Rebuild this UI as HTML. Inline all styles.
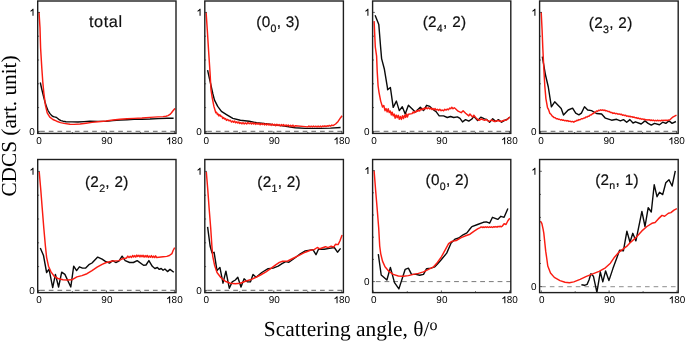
<!DOCTYPE html>
<html><head><meta charset="utf-8"><title>CDCS</title>
<style>
html,body{margin:0;padding:0;background:#fff;}
body{width:685px;height:341px;overflow:hidden;font-family:"Liberation Sans",sans-serif;}
svg{display:block;will-change:transform;}
.t{font-family:"Liberation Sans",sans-serif;font-size:10px;fill:#000;text-rendering:geometricPrecision;}
.l{font-family:"Liberation Sans",sans-serif;font-size:15.3px;fill:#111;letter-spacing:0.3px;stroke:#111;stroke-width:0.2px;text-rendering:geometricPrecision;}
.lt{font-family:"Liberation Sans",sans-serif;font-size:16.3px;fill:#111;letter-spacing:0.6px;stroke:#111;stroke-width:0.2px;text-rendering:geometricPrecision;}
.s{font-family:"Liberation Serif",serif;font-size:21.4px;fill:#000;text-rendering:geometricPrecision;}
</style></head><body>
<svg width="685" height="341" viewBox="0 0 685 341">
<rect width="685" height="341" fill="#fff"/>

<g>
<line x1="40.1" y1="131.3" x2="176.0" y2="131.3" stroke="#3a3a3a" stroke-width="0.8" stroke-dasharray="4.7 3.98"/>
<path d="M40.3 82.5 L41.5 88.0 L43.5 96.4 L45.0 102.0 L46.6 107.1 L48.0 110.5 L49.8 113.4 L51.5 115.4 L52.9 116.5 L54.5 116.9 L56.1 117.2 L57.5 118.2 L59.2 119.7 L61.0 120.6 L63.0 121.2 L66.0 121.7 L72.0 121.9 L78.0 122.0 L84.0 121.6 L90.0 121.2 L98.0 121.4 L106.0 121.4 L113.0 120.6 L120.0 120.0 L127.0 119.7 L134.0 119.4 L142.0 119.2 L150.0 119.0 L158.0 118.6 L167.0 118.2 L173.6 118.2" fill="none" stroke="#0a0a0a" stroke-width="1.4" stroke-linejoin="round" stroke-linecap="butt"/>
<path d="M39.0 12.1 L40.0 28.0 L40.6 48.0 L41.8 68.0 L42.8 82.0 L43.8 92.6 L45.4 105.2 L47.2 112.8 L49.8 117.2 L52.9 119.5 L56.7 121.2 L60.5 122.6 L64.0 123.4 L70.0 124.2 L74.0 124.4 L80.0 124.0 L86.0 123.2 L92.0 122.4 L98.0 121.8 L106.0 121.0 L113.0 120.0 L120.0 119.2 L127.0 118.8 L134.0 118.4 L142.0 118.0 L150.0 117.4 L158.0 116.9 L163.0 116.6 L166.0 116.2 L168.0 115.6 L170.0 114.4 L171.5 112.8 L173.0 110.8 L174.5 109.0 L175.3 108.6" fill="none" stroke="#fa1c12" stroke-width="1.45" stroke-linejoin="round" stroke-linecap="butt"/>
<line x1="37.7" y1="12.4" x2="40.0" y2="12.4" stroke="#222" stroke-width="0.7"/>
<line x1="37.7" y1="36.2" x2="39.1" y2="36.2" stroke="#222" stroke-width="0.7"/>
<line x1="37.7" y1="60.0" x2="39.1" y2="60.0" stroke="#222" stroke-width="0.7"/>
<line x1="37.7" y1="83.8" x2="39.1" y2="83.8" stroke="#222" stroke-width="0.7"/>
<line x1="37.7" y1="107.6" x2="39.1" y2="107.6" stroke="#222" stroke-width="0.7"/>
<line x1="37.7" y1="131.4" x2="40.0" y2="131.4" stroke="#222" stroke-width="0.7"/>
<line x1="38.4" y1="133.4" x2="38.4" y2="131.2" stroke="#222" stroke-width="0.7"/>
<line x1="72.4" y1="133.4" x2="72.4" y2="132.1" stroke="#222" stroke-width="0.7"/>
<line x1="106.4" y1="133.4" x2="106.4" y2="131.2" stroke="#222" stroke-width="0.7"/>
<line x1="140.4" y1="133.4" x2="140.4" y2="132.1" stroke="#222" stroke-width="0.7"/>
<line x1="174.4" y1="133.4" x2="174.4" y2="131.2" stroke="#222" stroke-width="0.7"/>
<rect x="37.7" y="1.0" width="138.3" height="132.4" fill="none" stroke="#1e1e1e" stroke-width="1.4"/>
<path fill="#000" d="M33.50 15.80 V8.85 H32.75 Q32.00 10.10 30.50 10.80 V11.80 Q31.60 11.40 32.50 10.60 V15.80 Z"/>
<text class="t" transform="translate(34.7 134.7) scale(0.995 1)" text-anchor="end">0</text>
<text class="t" transform="translate(38.9 144.1) scale(0.995 1)" text-anchor="middle">0</text>
<text class="t" transform="translate(106.9 144.1) scale(0.995 1)" text-anchor="middle">90</text>
<path fill="#000" d="M170.15 144.15 V137.20 H169.40 Q168.65 138.45 167.15 139.15 V140.15 Q168.25 139.75 169.15 138.95 V144.15 Z"/>
<text class="t" transform="translate(171.6 144.1) scale(0.995 1)" text-anchor="start">80</text>
<text class="lt" x="105.8" y="27.2" text-anchor="middle">total</text>
</g>
<g>
<line x1="207.2" y1="131.3" x2="343.4" y2="131.3" stroke="#3a3a3a" stroke-width="0.8" stroke-dasharray="4.7 3.98"/>
<path d="M207.6 70.2 L210.0 81.0 L212.0 90.0 L212.9 94.0 L214.5 100.1 L217.7 106.4 L221.4 111.4 L226.5 114.6 L232.8 118.4 L240.4 120.3 L249.2 121.3 L256.7 122.8 L265.6 123.8 L270.0 124.2 L275.7 125.1 L282.6 125.9 L295.2 127.7 L305.3 128.4 L320.4 128.4 L330.5 128.1 L340.6 127.5" fill="none" stroke="#0a0a0a" stroke-width="1.4" stroke-linejoin="round" stroke-linecap="butt"/>
<path d="M206.1 12.4 L207.3 30.0 L208.6 51.0 L210.0 72.0 L211.0 90.0 L212.2 97.6 L213.9 106.4 L215.8 112.7 L216.6 112.3 L217.4 114.6 L218.2 114.1 L218.9 115.9 L219.9 114.8 L220.8 116.4 L221.8 116.3 L222.7 118.5 L223.6 117.5 L224.6 119.1 L225.6 118.5 L226.5 120.4 L227.8 119.4 L229.0 120.9 L230.2 120.2 L231.5 122.1 L232.6 121.0 L233.6 122.2 L234.7 121.1 L235.7 122.8 L236.8 121.8 L237.8 123.1 L238.8 121.9 L239.8 123.5 L240.9 122.6 L241.9 123.9 L242.9 122.6 L244.2 123.9 L245.4 122.9 L246.7 124.0 L247.9 122.5 L249.2 123.7 L250.4 122.7 L251.5 124.1 L252.6 122.7 L253.7 123.9 L254.7 122.9 L255.8 124.4 L256.9 123.1 L258.0 124.3 L259.1 123.2 L260.2 124.7 L261.3 123.5 L262.3 124.6 L263.4 123.4 L264.5 124.9 L265.6 123.8 L266.7 125.0 L267.8 123.7 L268.9 125.1 L270.0 124.1 L271.1 125.4 L272.3 123.9 L273.4 125.3 L274.6 124.3 L275.7 125.7 L276.9 124.2 L278.0 125.5 L279.1 124.5 L280.3 125.9 L281.5 124.5 L282.6 125.7 L283.7 124.6 L284.9 126.1 L286.0 124.9 L287.2 126.0 L288.3 124.9 L289.5 126.4 L290.6 125.3 L291.8 126.4 L292.9 125.1 L294.1 126.7 L295.2 125.7 L307.8 126.9 L308.9 126.0 L310.1 126.9 L311.2 126.2 L312.4 126.9 L313.5 126.0 L314.7 126.8 L315.8 126.2 L317.0 127.0 L318.1 126.1 L319.3 126.8 L320.4 126.1 L321.5 126.9 L322.6 126.0 L323.7 126.6 L324.9 125.8 L326.0 126.6 L327.1 125.7 L328.2 126.3 L329.3 125.4 L330.5 126.1 L331.8 125.1 L333.0 125.6 L335.6 124.0 L338.1 121.4 L340.6 117.7 L342.1 115.8" fill="none" stroke="#fa1c12" stroke-width="1.45" stroke-linejoin="round" stroke-linecap="butt"/>
<line x1="204.8" y1="12.4" x2="207.0" y2="12.4" stroke="#222" stroke-width="0.7"/>
<line x1="204.8" y1="36.2" x2="206.1" y2="36.2" stroke="#222" stroke-width="0.7"/>
<line x1="204.8" y1="60.0" x2="206.1" y2="60.0" stroke="#222" stroke-width="0.7"/>
<line x1="204.8" y1="83.8" x2="206.1" y2="83.8" stroke="#222" stroke-width="0.7"/>
<line x1="204.8" y1="107.6" x2="206.1" y2="107.6" stroke="#222" stroke-width="0.7"/>
<line x1="204.8" y1="131.4" x2="207.0" y2="131.4" stroke="#222" stroke-width="0.7"/>
<line x1="205.8" y1="133.4" x2="205.8" y2="131.2" stroke="#222" stroke-width="0.7"/>
<line x1="239.8" y1="133.4" x2="239.8" y2="132.1" stroke="#222" stroke-width="0.7"/>
<line x1="273.8" y1="133.4" x2="273.8" y2="131.2" stroke="#222" stroke-width="0.7"/>
<line x1="307.8" y1="133.4" x2="307.8" y2="132.1" stroke="#222" stroke-width="0.7"/>
<line x1="341.8" y1="133.4" x2="341.8" y2="131.2" stroke="#222" stroke-width="0.7"/>
<rect x="204.8" y="1.0" width="138.6" height="132.4" fill="none" stroke="#1e1e1e" stroke-width="1.4"/>
<path fill="#000" d="M200.55 15.80 V8.85 H199.80 Q199.05 10.10 197.55 10.80 V11.80 Q198.65 11.40 199.55 10.60 V15.80 Z"/>
<text class="t" transform="translate(201.8 134.7) scale(0.995 1)" text-anchor="end">0</text>
<text class="t" transform="translate(206.3 144.1) scale(0.995 1)" text-anchor="middle">0</text>
<text class="t" transform="translate(274.3 144.1) scale(0.995 1)" text-anchor="middle">90</text>
<path fill="#000" d="M337.55 144.15 V137.20 H336.80 Q336.05 138.45 334.55 139.15 V140.15 Q335.65 139.75 336.55 138.95 V144.15 Z"/>
<text class="t" transform="translate(339.0 144.1) scale(0.995 1)" text-anchor="start">80</text>
<text class="l" x="278.1" y="27.1" text-anchor="middle">(0<tspan font-size="10.6px" dy="4.7">0</tspan><tspan dy="-4.7">, 3)</tspan></text>
</g>
<g>
<line x1="375.0" y1="131.3" x2="510.8" y2="131.3" stroke="#3a3a3a" stroke-width="0.8" stroke-dasharray="4.7 3.98"/>
<path d="M375.1 15.3 L378.8 24.6 L380.6 47.0 L381.6 58.6 L384.4 69.3 L387.5 88.2 L387.6 89.8 L390.4 87.5 L393.2 107.4 L396.4 101.1 L399.3 110.6 L402.3 106.8 L405.2 114.0 L408.4 105.2 L415.3 111.9 L420.3 107.2 L423.5 110.6 L426.6 105.3 L429.8 106.4 L433.6 110.0 L436.1 111.7 L439.2 115.9 L443.6 115.9 L447.3 117.5 L450.5 116.5 L453.7 117.5 L457.4 116.9 L460.0 118.4 L462.5 121.9 L465.6 119.6 L468.8 121.1 L471.9 119.0 L473.8 116.2 L477.6 120.6 L480.8 117.1 L484.6 118.8 L486.4 119.3 L489.6 122.2 L492.7 118.8 L495.9 121.5 L498.4 119.6 L501.6 122.2 L504.7 120.3 L507.9 118.8 L509.8 117.1" fill="none" stroke="#0a0a0a" stroke-width="1.4" stroke-linejoin="round" stroke-linecap="butt"/>
<path d="M374.1 21.1 L375.3 47.0 L376.6 56.1 L377.2 71.2 L378.1 86.0 L379.0 92.3 L380.7 101.1 L382.5 107.0 L383.8 105.5 L385.0 110.7 L386.1 108.6 L387.1 111.9 L388.2 108.8 L389.2 112.6 L390.3 111.0 L391.3 114.9 L392.2 112.3 L393.2 115.8 L394.2 114.1 L395.1 118.2 L396.2 115.1 L397.2 117.8 L398.3 115.3 L399.3 119.2 L400.4 116.5 L401.4 119.4 L402.5 115.8 L403.5 118.6 L404.6 115.2 L405.6 117.4 L406.5 113.9 L407.4 117.0 L408.4 114.2 L412.1 113.6 L413.1 112.0 L414.0 112.9 L414.9 111.6 L415.9 112.2 L416.8 110.6 L417.8 111.3 L418.8 110.1 L419.7 110.9 L420.6 109.2 L421.6 109.8 L422.6 108.6 L423.5 109.4 L424.4 108.0 L425.4 108.8 L426.4 107.6 L427.3 108.8 L428.5 107.8 L429.8 108.9 L431.0 108.0 L432.0 109.5 L433.0 108.6 L434.1 109.7 L435.1 108.6 L436.1 110.1 L437.3 109.3 L438.6 110.4 L439.8 109.3 L441.1 110.7 L442.3 110.0 L443.6 110.8 L444.8 109.3 L446.1 110.1 L447.3 109.0 L448.4 109.8 L449.6 108.1 L450.7 108.7 L451.8 107.3 L453.0 108.7 L454.3 107.7 L455.5 108.7 L458.1 111.2 L461.2 112.7 L463.1 110.8 L465.6 113.3 L468.8 115.9 L470.0 114.0 L472.6 117.1 L473.8 115.2 L476.4 118.4 L478.9 120.3 L481.4 119.0 L484.6 120.3 L486.4 119.6 L489.0 121.5 L491.5 120.0 L494.6 121.5 L497.8 120.5 L501.0 121.5 L504.1 120.3 L506.6 120.0 L509.8 116.9" fill="none" stroke="#fa1c12" stroke-width="1.45" stroke-linejoin="round" stroke-linecap="butt"/>
<line x1="372.6" y1="12.4" x2="374.9" y2="12.4" stroke="#222" stroke-width="0.7"/>
<line x1="372.6" y1="36.2" x2="374.0" y2="36.2" stroke="#222" stroke-width="0.7"/>
<line x1="372.6" y1="60.0" x2="374.0" y2="60.0" stroke="#222" stroke-width="0.7"/>
<line x1="372.6" y1="83.8" x2="374.0" y2="83.8" stroke="#222" stroke-width="0.7"/>
<line x1="372.6" y1="107.6" x2="374.0" y2="107.6" stroke="#222" stroke-width="0.7"/>
<line x1="372.6" y1="131.4" x2="374.9" y2="131.4" stroke="#222" stroke-width="0.7"/>
<line x1="373.4" y1="133.4" x2="373.4" y2="131.2" stroke="#222" stroke-width="0.7"/>
<line x1="407.4" y1="133.4" x2="407.4" y2="132.1" stroke="#222" stroke-width="0.7"/>
<line x1="441.4" y1="133.4" x2="441.4" y2="131.2" stroke="#222" stroke-width="0.7"/>
<line x1="475.4" y1="133.4" x2="475.4" y2="132.1" stroke="#222" stroke-width="0.7"/>
<line x1="509.4" y1="133.4" x2="509.4" y2="131.2" stroke="#222" stroke-width="0.7"/>
<rect x="372.6" y="1.0" width="138.2" height="132.4" fill="none" stroke="#1e1e1e" stroke-width="1.4"/>
<path fill="#000" d="M368.40 15.80 V8.85 H367.65 Q366.90 10.10 365.40 10.80 V11.80 Q366.50 11.40 367.40 10.60 V15.80 Z"/>
<text class="t" transform="translate(369.6 134.7) scale(0.995 1)" text-anchor="end">0</text>
<text class="t" transform="translate(373.9 144.1) scale(0.995 1)" text-anchor="middle">0</text>
<text class="t" transform="translate(441.9 144.1) scale(0.995 1)" text-anchor="middle">90</text>
<path fill="#000" d="M505.15 144.15 V137.20 H504.40 Q503.65 138.45 502.15 139.15 V140.15 Q503.25 139.75 504.15 138.95 V144.15 Z"/>
<text class="t" transform="translate(506.6 144.1) scale(0.995 1)" text-anchor="start">80</text>
<text class="l" x="444.5" y="26.9" text-anchor="middle">(2<tspan font-size="10.6px" dy="4.7">4</tspan><tspan dy="-4.7">, 2)</tspan></text>
</g>
<g>
<line x1="542.0" y1="131.3" x2="678.2" y2="131.3" stroke="#3a3a3a" stroke-width="0.8" stroke-dasharray="4.7 3.98"/>
<path d="M542.3 56.7 L545.5 75.0 L548.3 87.0 L551.4 106.8 L554.7 101.8 L561.2 108.4 L563.5 115.0 L568.2 110.0 L572.6 108.1 L575.7 113.1 L578.9 114.8 L581.4 113.1 L584.5 106.8 L587.7 110.0 L591.5 110.6 L596.5 113.5 L601.6 114.0 L605.4 118.2 L611.6 120.2 L616.6 119.3 L620.4 120.9 L623.5 119.6 L626.7 122.2 L629.9 119.6 L633.0 123.0 L635.5 121.8 L641.2 124.0 L645.0 120.9 L648.1 123.4 L651.3 125.1 L654.5 123.4 L659.5 124.7 L662.7 122.2 L665.8 123.4 L669.0 120.9 L672.1 123.4 L675.9 121.5" fill="none" stroke="#0a0a0a" stroke-width="1.4" stroke-linejoin="round" stroke-linecap="butt"/>
<path d="M541.2 12.1 L542.1 30.0 L542.8 48.0 L543.9 70.0 L544.8 86.0 L545.9 98.6 L547.5 107.7 L548.7 109.9 L549.9 113.4 L550.9 114.2 L552.0 115.9 L553.0 116.6 L554.1 117.6 L555.2 117.7 L556.3 118.8 L557.4 118.7 L558.5 119.4 L559.5 119.2 L560.5 120.0 L561.6 119.6 L562.7 120.3 L563.7 120.0 L564.7 120.8 L565.7 120.4 L566.8 121.0 L567.8 120.6 L568.8 121.4 L570.0 121.1 L571.3 121.8 L572.5 121.4 L573.8 122.2 L574.8 121.3 L575.8 121.3 L576.9 120.3 L577.9 120.5 L578.9 119.6 L580.1 119.7 L581.4 118.7 L582.6 118.8 L583.9 118.0 L584.9 118.1 L585.9 117.0 L587.0 117.1 L588.0 116.2 L589.0 116.3 L590.2 115.0 L591.5 114.7 L592.7 113.4 L593.7 113.4 L594.6 112.2 L595.5 112.1 L596.5 110.9 L597.6 111.2 L598.6 110.3 L599.7 110.5 L600.7 109.8 L601.8 110.3 L602.8 109.8 L603.8 110.5 L604.8 110.1 L605.9 110.9 L606.9 110.7 L607.9 111.5 L609.1 111.4 L610.4 112.4 L611.6 112.4 L612.9 113.4 L614.1 113.0 L615.4 113.7 L616.6 113.4 L617.9 114.2 L619.1 113.9 L620.4 114.5 L621.5 114.2 L622.5 115.2 L623.5 114.9 L624.6 115.6 L625.7 115.3 L626.7 116.2 L627.8 115.9 L628.8 116.6 L629.9 116.2 L630.9 116.9 L632.0 116.7 L633.0 117.4 L634.1 117.0 L635.2 117.8 L636.3 117.6 L637.3 118.4 L638.4 118.0 L639.5 118.8 L640.6 118.5 L641.6 119.3 L642.7 118.9 L643.8 119.6 L644.8 119.2 L645.9 120.1 L646.9 119.7 L648.0 120.2 L649.1 119.7 L650.2 120.5 L651.2 120.0 L652.3 120.6 L653.4 120.1 L654.5 120.8 L655.5 120.3 L656.6 120.8 L657.6 120.2 L658.7 120.8 L659.8 120.4 L660.8 120.9 L661.8 120.2 L662.9 120.7 L664.0 120.2 L665.0 120.7 L666.0 120.1 L667.1 120.5 L670.2 119.6 L672.8 117.1 L676.5 115.2" fill="none" stroke="#fa1c12" stroke-width="1.45" stroke-linejoin="round" stroke-linecap="butt"/>
<line x1="539.6" y1="12.4" x2="541.9" y2="12.4" stroke="#222" stroke-width="0.7"/>
<line x1="539.6" y1="36.2" x2="541.0" y2="36.2" stroke="#222" stroke-width="0.7"/>
<line x1="539.6" y1="60.0" x2="541.0" y2="60.0" stroke="#222" stroke-width="0.7"/>
<line x1="539.6" y1="83.8" x2="541.0" y2="83.8" stroke="#222" stroke-width="0.7"/>
<line x1="539.6" y1="107.6" x2="541.0" y2="107.6" stroke="#222" stroke-width="0.7"/>
<line x1="539.6" y1="131.4" x2="541.9" y2="131.4" stroke="#222" stroke-width="0.7"/>
<line x1="540.6" y1="133.4" x2="540.6" y2="131.2" stroke="#222" stroke-width="0.7"/>
<line x1="574.6" y1="133.4" x2="574.6" y2="132.1" stroke="#222" stroke-width="0.7"/>
<line x1="608.6" y1="133.4" x2="608.6" y2="131.2" stroke="#222" stroke-width="0.7"/>
<line x1="642.6" y1="133.4" x2="642.6" y2="132.1" stroke="#222" stroke-width="0.7"/>
<line x1="676.6" y1="133.4" x2="676.6" y2="131.2" stroke="#222" stroke-width="0.7"/>
<rect x="539.6" y="1.0" width="138.6" height="132.4" fill="none" stroke="#1e1e1e" stroke-width="1.4"/>
<path fill="#000" d="M535.40 15.80 V8.85 H534.65 Q533.90 10.10 532.40 10.80 V11.80 Q533.50 11.40 534.40 10.60 V15.80 Z"/>
<text class="t" transform="translate(536.6 134.7) scale(0.995 1)" text-anchor="end">0</text>
<text class="t" transform="translate(541.1 144.1) scale(0.995 1)" text-anchor="middle">0</text>
<text class="t" transform="translate(609.1 144.1) scale(0.995 1)" text-anchor="middle">90</text>
<path fill="#000" d="M672.35 144.15 V137.20 H671.60 Q670.85 138.45 669.35 139.15 V140.15 Q670.45 139.75 671.35 138.95 V144.15 Z"/>
<text class="t" transform="translate(673.8 144.1) scale(0.995 1)" text-anchor="start">80</text>
<text class="l" x="610.7" y="28.4" text-anchor="middle">(2<tspan font-size="10.6px" dy="4.7">3</tspan><tspan dy="-4.7">, 2)</tspan></text>
</g>
<g>
<line x1="40.1" y1="290.3" x2="176.0" y2="290.3" stroke="#3a3a3a" stroke-width="0.8" stroke-dasharray="4.7 3.98"/>
<path d="M40.3 247.9 L43.5 255.5 L46.6 272.5 L49.1 269.3 L52.7 287.6 L55.4 274.4 L58.6 287.0 L61.7 272.2 L64.9 274.4 L70.8 287.0 L73.7 266.2 L76.6 270.6 L79.4 266.8 L82.5 268.1 L85.7 268.1 L88.9 264.7 L92.0 263.0 L97.7 257.1 L102.1 259.2 L105.0 261.2 L109.5 263.1 L112.6 260.6 L115.8 262.5 L118.9 261.2 L122.1 256.2 L125.2 260.6 L129.6 262.5 L133.4 262.5 L137.2 260.6 L143.5 265.3 L146.0 265.0 L148.9 260.6 L152.3 266.3 L154.9 268.5 L157.4 267.5 L159.3 269.4 L161.2 268.5 L163.1 270.3 L164.9 269.0 L167.5 271.6 L170.0 269.4 L173.8 272.3" fill="none" stroke="#0a0a0a" stroke-width="1.4" stroke-linejoin="round" stroke-linecap="butt"/>
<path d="M39.2 171.7 L40.8 190.0 L42.2 208.0 L43.8 228.0 L45.4 246.0 L46.6 257.3 L48.5 266.2 L51.0 271.9 L54.2 276.3 L58.0 278.5 L63.0 279.8 L67.4 280.0 L71.8 279.8 L76.9 276.9 L81.9 275.6 L87.0 273.7 L92.0 270.6 L97.1 267.2 L102.1 264.3 L106.3 262.5 L112.6 261.0 L118.9 260.6 L122.7 258.7 L126.5 258.0 L127.8 256.1 L129.0 257.6 L130.2 256.2 L131.5 257.5 L132.6 255.5 L133.6 257.0 L134.7 255.6 L135.7 257.1 L136.8 255.1 L137.8 256.5 L138.9 255.2 L139.9 257.0 L140.9 255.3 L142.0 256.7 L143.1 255.3 L144.1 257.2 L145.2 255.6 L146.2 257.0 L147.2 255.4 L148.3 257.4 L149.3 256.0 L150.4 257.3 L151.4 255.6 L152.5 257.5 L153.6 256.1 L154.6 257.6 L155.6 255.8 L156.7 257.5 L163.1 256.8 L166.8 256.4 L169.4 255.5 L171.9 253.7 L173.1 250.5 L174.7 247.6" fill="none" stroke="#fa1c12" stroke-width="1.45" stroke-linejoin="round" stroke-linecap="butt"/>
<line x1="37.7" y1="171.4" x2="40.0" y2="171.4" stroke="#222" stroke-width="0.7"/>
<line x1="37.7" y1="195.2" x2="39.1" y2="195.2" stroke="#222" stroke-width="0.7"/>
<line x1="37.7" y1="219.0" x2="39.1" y2="219.0" stroke="#222" stroke-width="0.7"/>
<line x1="37.7" y1="242.8" x2="39.1" y2="242.8" stroke="#222" stroke-width="0.7"/>
<line x1="37.7" y1="266.6" x2="39.1" y2="266.6" stroke="#222" stroke-width="0.7"/>
<line x1="37.7" y1="290.4" x2="40.0" y2="290.4" stroke="#222" stroke-width="0.7"/>
<line x1="38.4" y1="292.6" x2="38.4" y2="290.4" stroke="#222" stroke-width="0.7"/>
<line x1="72.4" y1="292.6" x2="72.4" y2="291.2" stroke="#222" stroke-width="0.7"/>
<line x1="106.4" y1="292.6" x2="106.4" y2="290.4" stroke="#222" stroke-width="0.7"/>
<line x1="140.4" y1="292.6" x2="140.4" y2="291.2" stroke="#222" stroke-width="0.7"/>
<line x1="174.4" y1="292.6" x2="174.4" y2="290.4" stroke="#222" stroke-width="0.7"/>
<rect x="37.7" y="159.5" width="138.3" height="133.1" fill="none" stroke="#1e1e1e" stroke-width="1.4"/>
<path fill="#000" d="M33.50 174.80 V167.85 H32.75 Q32.00 169.10 30.50 169.80 V170.80 Q31.60 170.40 32.50 169.60 V174.80 Z"/>
<text class="t" transform="translate(34.7 293.7) scale(0.995 1)" text-anchor="end">0</text>
<text class="t" transform="translate(38.9 303.2) scale(0.995 1)" text-anchor="middle">0</text>
<text class="t" transform="translate(106.9 303.2) scale(0.995 1)" text-anchor="middle">90</text>
<path fill="#000" d="M170.15 303.25 V296.30 H169.40 Q168.65 297.55 167.15 298.25 V299.25 Q168.25 298.85 169.15 298.05 V303.25 Z"/>
<text class="t" transform="translate(171.6 303.2) scale(0.995 1)" text-anchor="start">80</text>
<text class="l" x="106.8" y="186.8" text-anchor="middle">(2<tspan font-size="10.6px" dy="4.7">2</tspan><tspan dy="-4.7">, 2)</tspan></text>
</g>
<g>
<line x1="207.2" y1="290.3" x2="343.4" y2="290.3" stroke="#3a3a3a" stroke-width="0.8" stroke-dasharray="4.7 3.98"/>
<path d="M207.6 226.8 L210.1 246.0 L212.0 252.9 L214.1 252.3 L217.0 270.6 L219.9 267.4 L223.0 283.2 L225.9 271.2 L229.3 288.2 L232.2 281.9 L235.3 280.0 L237.8 277.3 L241.0 287.0 L244.1 278.8 L247.3 281.7 L250.4 281.9 L253.0 274.4 L256.1 277.3 L261.8 272.5 L268.1 268.7 L273.1 268.1 L278.2 266.2 L282.0 263.7 L285.7 261.6 L288.9 262.2 L295.2 257.8 L300.3 253.8 L305.3 250.9 L312.9 249.6 L316.0 254.7 L318.5 249.3 L324.2 249.3 L329.3 248.4 L334.3 247.5 L337.5 252.2 L340.6 248.4" fill="none" stroke="#0a0a0a" stroke-width="1.4" stroke-linejoin="round" stroke-linecap="butt"/>
<path d="M206.3 171.7 L207.8 190.0 L209.1 208.0 L210.7 228.0 L211.9 246.0 L212.7 256.1 L214.5 264.9 L217.0 272.5 L220.8 277.5 L225.2 281.3 L230.3 283.2 L235.3 283.8 L240.4 283.2 L245.4 281.3 L250.4 279.8 L255.5 277.5 L260.5 275.0 L265.6 272.2 L270.6 268.7 L275.7 264.9 L279.4 262.4 L282.6 261.2 L287.7 261.0 L292.7 258.5 L299.0 255.3 L305.3 252.2 L310.4 250.3 L314.1 249.6 L317.3 247.5 L319.8 248.8 L325.5 246.7 L328.0 247.7 L331.2 246.2 L333.7 247.1 L335.6 244.2 L338.1 244.6 L340.0 240.8 L342.1 235.1" fill="none" stroke="#fa1c12" stroke-width="1.45" stroke-linejoin="round" stroke-linecap="butt"/>
<line x1="204.8" y1="171.4" x2="207.0" y2="171.4" stroke="#222" stroke-width="0.7"/>
<line x1="204.8" y1="195.2" x2="206.1" y2="195.2" stroke="#222" stroke-width="0.7"/>
<line x1="204.8" y1="219.0" x2="206.1" y2="219.0" stroke="#222" stroke-width="0.7"/>
<line x1="204.8" y1="242.8" x2="206.1" y2="242.8" stroke="#222" stroke-width="0.7"/>
<line x1="204.8" y1="266.6" x2="206.1" y2="266.6" stroke="#222" stroke-width="0.7"/>
<line x1="204.8" y1="290.4" x2="207.0" y2="290.4" stroke="#222" stroke-width="0.7"/>
<line x1="205.8" y1="292.6" x2="205.8" y2="290.4" stroke="#222" stroke-width="0.7"/>
<line x1="239.8" y1="292.6" x2="239.8" y2="291.2" stroke="#222" stroke-width="0.7"/>
<line x1="273.8" y1="292.6" x2="273.8" y2="290.4" stroke="#222" stroke-width="0.7"/>
<line x1="307.8" y1="292.6" x2="307.8" y2="291.2" stroke="#222" stroke-width="0.7"/>
<line x1="341.8" y1="292.6" x2="341.8" y2="290.4" stroke="#222" stroke-width="0.7"/>
<rect x="204.8" y="159.5" width="138.6" height="133.1" fill="none" stroke="#1e1e1e" stroke-width="1.4"/>
<path fill="#000" d="M200.55 174.80 V167.85 H199.80 Q199.05 169.10 197.55 169.80 V170.80 Q198.65 170.40 199.55 169.60 V174.80 Z"/>
<text class="t" transform="translate(201.8 293.7) scale(0.995 1)" text-anchor="end">0</text>
<text class="t" transform="translate(206.3 303.2) scale(0.995 1)" text-anchor="middle">0</text>
<text class="t" transform="translate(274.3 303.2) scale(0.995 1)" text-anchor="middle">90</text>
<path fill="#000" d="M337.55 303.25 V296.30 H336.80 Q336.05 297.55 334.55 298.25 V299.25 Q335.65 298.85 336.55 298.05 V303.25 Z"/>
<text class="t" transform="translate(339.0 303.2) scale(0.995 1)" text-anchor="start">80</text>
<text class="l" x="279.1" y="187.1" text-anchor="middle">(2<tspan font-size="10.6px" dy="4.7">1</tspan><tspan dy="-4.7">, 2)</tspan></text>
</g>
<g>
<line x1="375.8" y1="281.6" x2="510.8" y2="281.6" stroke="#6a6a6a" stroke-width="0.9" stroke-dasharray="4.8 3.9"/>
<path d="M378.3 254.2 L381.2 275.0 L386.9 280.0 L390.4 267.4 L394.5 282.6 L398.9 288.9 L405.2 269.3 L408.4 268.1 L411.5 274.4 L415.9 274.4 L419.7 275.3 L423.5 274.4 L426.6 268.7 L431.0 268.1 L434.8 266.8 L437.5 263.9 L441.0 260.0 L446.7 253.1 L451.1 243.0 L454.9 239.2 L458.7 238.0 L463.1 234.8 L466.9 232.9 L470.3 228.5 L471.9 226.6 L477.6 224.5 L483.3 222.3 L486.4 221.9 L489.6 223.2 L492.5 217.3 L497.8 219.4 L500.9 216.3 L504.1 217.3 L507.9 208.4" fill="none" stroke="#0a0a0a" stroke-width="1.4" stroke-linejoin="round" stroke-linecap="butt"/>
<path d="M374.1 170.8 L375.6 190.0 L377.1 208.0 L378.7 228.0 L379.7 246.0 L380.7 253.6 L382.5 261.1 L385.0 266.8 L388.8 271.2 L393.2 274.4 L398.3 276.0 L403.3 276.3 L408.4 275.6 L413.4 274.4 L418.4 273.4 L423.5 271.9 L428.5 269.3 L433.6 266.8 L436.5 263.6 L441.0 257.5 L445.5 249.3 L448.6 243.7 L451.8 241.4 L456.2 240.5 L461.2 237.6 L466.3 235.5 L470.0 234.2 L473.8 231.3 L477.6 228.8 L480.1 227.6 L481.2 226.9 L482.2 227.5 L483.2 227.0 L484.3 227.5 L485.3 226.8 L486.4 227.4 L487.4 226.8 L488.5 227.5 L489.5 226.8 L490.6 227.3 L491.6 226.8 L492.7 227.5 L493.8 226.7 L494.8 227.2 L495.9 226.5 L497.0 227.2 L498.0 226.4 L499.1 226.8 L500.1 226.2 L501.2 226.8 L502.2 226.2 L504.1 223.8 L506.0 224.5 L507.9 220.7 L509.8 218.2" fill="none" stroke="#fa1c12" stroke-width="1.45" stroke-linejoin="round" stroke-linecap="butt"/>
<line x1="372.6" y1="170.6" x2="374.9" y2="170.6" stroke="#222" stroke-width="0.7"/>
<line x1="372.6" y1="192.8" x2="374.0" y2="192.8" stroke="#222" stroke-width="0.7"/>
<line x1="372.6" y1="215.0" x2="374.0" y2="215.0" stroke="#222" stroke-width="0.7"/>
<line x1="372.6" y1="237.2" x2="374.0" y2="237.2" stroke="#222" stroke-width="0.7"/>
<line x1="372.6" y1="259.4" x2="374.0" y2="259.4" stroke="#222" stroke-width="0.7"/>
<line x1="372.6" y1="281.6" x2="374.9" y2="281.6" stroke="#222" stroke-width="0.7"/>
<line x1="373.2" y1="292.6" x2="373.2" y2="290.4" stroke="#222" stroke-width="0.7"/>
<line x1="407.3" y1="292.6" x2="407.3" y2="291.2" stroke="#222" stroke-width="0.7"/>
<line x1="441.4" y1="292.6" x2="441.4" y2="290.4" stroke="#222" stroke-width="0.7"/>
<line x1="475.5" y1="292.6" x2="475.5" y2="291.2" stroke="#222" stroke-width="0.7"/>
<line x1="509.6" y1="292.6" x2="509.6" y2="290.4" stroke="#222" stroke-width="0.7"/>
<rect x="372.6" y="159.5" width="138.2" height="133.1" fill="none" stroke="#1e1e1e" stroke-width="1.4"/>
<path fill="#000" d="M368.40 174.00 V167.05 H367.65 Q366.90 168.30 365.40 169.00 V170.00 Q366.50 169.60 367.40 168.80 V174.00 Z"/>
<text class="t" transform="translate(369.6 284.9) scale(0.995 1)" text-anchor="end">0</text>
<text class="t" transform="translate(373.7 303.2) scale(0.995 1)" text-anchor="middle">0</text>
<text class="t" transform="translate(441.9 303.2) scale(0.995 1)" text-anchor="middle">90</text>
<path fill="#000" d="M505.35 303.25 V296.30 H504.60 Q503.85 297.55 502.35 298.25 V299.25 Q503.45 298.85 504.35 298.05 V303.25 Z"/>
<text class="t" transform="translate(506.8 303.2) scale(0.995 1)" text-anchor="start">80</text>
<text class="l" x="447.4" y="185.1" text-anchor="middle">(0<tspan font-size="10.6px" dy="4.7">0</tspan><tspan dy="-4.7">, 2)</tspan></text>
</g>
<g>
<line x1="541.2" y1="286.6" x2="678.2" y2="286.6" stroke="#a4a4a4" stroke-width="1.4" stroke-dasharray="4.6 4.05"/>
<path d="M581.4 284.8 L584.5 285.3 L587.1 284.4 L589.0 280.0 L590.9 273.7 L593.4 276.2 L596.9 292.4 L600.3 271.8 L602.8 281.9 L605.6 270.9 L608.9 280.6 L612.9 268.6 L616.7 258.2 L619.6 250.2 L623.4 250.8 L626.9 231.1 L630.0 242.2 L632.8 233.3 L635.9 240.9 L641.9 211.4 L645.0 226.5 L648.2 207.6 L651.3 212.0 L654.2 184.7 L657.0 196.7 L659.5 192.3 L662.7 194.6 L665.8 182.8 L669.0 179.7 L672.1 186.0 L675.3 170.8" fill="none" stroke="#0a0a0a" stroke-width="1.4" stroke-linejoin="round" stroke-linecap="butt"/>
<path d="M540.1 221.4 L541.0 221.9 L541.9 223.6 L543.1 229.1 L543.8 233.2 L545.7 251.2 L546.7 258.0 L547.8 266.1 L550.5 273.0 L554.3 277.4 L560.0 280.6 L565.0 282.2 L569.4 282.7 L573.8 281.9 L580.1 279.3 L586.4 276.4 L592.7 273.9 L599.1 271.4 L605.4 267.8 L610.4 263.2 L614.0 257.8 L619.0 252.1 L626.6 246.4 L629.9 243.0 L635.5 237.9 L641.9 230.9 L646.9 226.5 L651.9 223.3 L655.1 222.5 L658.3 218.9 L662.0 215.4 L664.6 216.2 L668.4 213.2 L670.9 212.6 L674.0 210.1 L676.9 208.6" fill="none" stroke="#fa1c12" stroke-width="1.45" stroke-linejoin="round" stroke-linecap="butt"/>
<line x1="539.6" y1="171.3" x2="541.9" y2="171.3" stroke="#222" stroke-width="0.7"/>
<line x1="539.6" y1="194.4" x2="541.0" y2="194.4" stroke="#222" stroke-width="0.7"/>
<line x1="539.6" y1="217.4" x2="541.0" y2="217.4" stroke="#222" stroke-width="0.7"/>
<line x1="539.6" y1="240.5" x2="541.0" y2="240.5" stroke="#222" stroke-width="0.7"/>
<line x1="539.6" y1="263.5" x2="541.0" y2="263.5" stroke="#222" stroke-width="0.7"/>
<line x1="539.6" y1="286.6" x2="541.9" y2="286.6" stroke="#222" stroke-width="0.7"/>
<line x1="541.3" y1="292.6" x2="541.3" y2="290.4" stroke="#222" stroke-width="0.7"/>
<line x1="575.2" y1="292.6" x2="575.2" y2="291.2" stroke="#222" stroke-width="0.7"/>
<line x1="609.1" y1="292.6" x2="609.1" y2="290.4" stroke="#222" stroke-width="0.7"/>
<line x1="643.1" y1="292.6" x2="643.1" y2="291.2" stroke="#222" stroke-width="0.7"/>
<line x1="677.0" y1="292.6" x2="677.0" y2="290.4" stroke="#222" stroke-width="0.7"/>
<rect x="539.6" y="159.5" width="138.6" height="133.1" fill="none" stroke="#1e1e1e" stroke-width="1.4"/>
<path fill="#000" d="M535.40 174.70 V167.75 H534.65 Q533.90 169.00 532.40 169.70 V170.70 Q533.50 170.30 534.40 169.50 V174.70 Z"/>
<text class="t" transform="translate(536.6 289.9) scale(0.995 1)" text-anchor="end">0</text>
<text class="t" transform="translate(541.8 303.2) scale(0.995 1)" text-anchor="middle">0</text>
<text class="t" transform="translate(609.6 303.2) scale(0.995 1)" text-anchor="middle">90</text>
<path fill="#000" d="M672.75 303.25 V296.30 H672.00 Q671.25 297.55 669.75 298.25 V299.25 Q670.85 298.85 671.75 298.05 V303.25 Z"/>
<text class="t" transform="translate(674.2 303.2) scale(0.995 1)" text-anchor="start">80</text>
<text class="l" x="617.0" y="184.7" text-anchor="middle">(2<tspan font-size="10.6px" dy="4.7">n</tspan><tspan dy="-4.7">, 1)</tspan></text>
</g>
<text class="s" transform="translate(15.8 196.6) rotate(-90)" textLength="141.2" lengthAdjust="spacing">CDCS (art. unit)</text>
<text class="s" x="263.8" y="335.7" textLength="173.6" lengthAdjust="spacing">Scattering angle, θ/<tspan font-size="16px" dy="-5.9">o</tspan></text>
</svg></body></html>
